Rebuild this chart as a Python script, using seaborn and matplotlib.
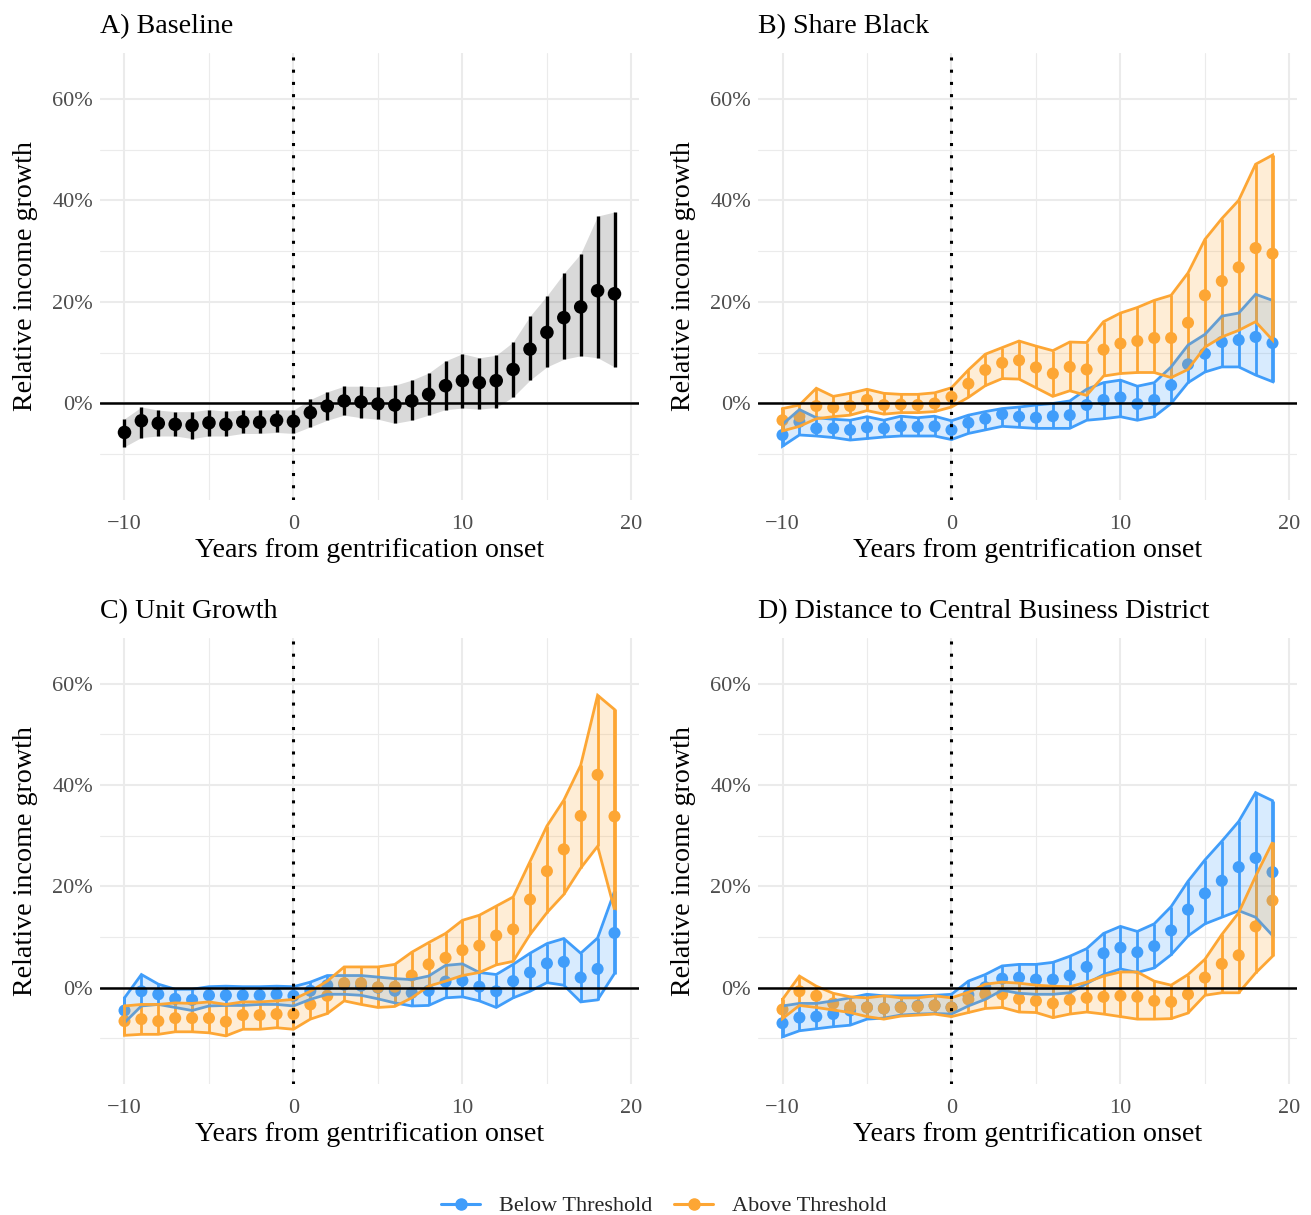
import matplotlib
matplotlib.use("Agg")
import matplotlib.pyplot as plt
import numpy as np
import pandas as pd
import seaborn as sns
from matplotlib.lines import Line2D
from matplotlib.ticker import FixedLocator, FuncFormatter

# ---------------- data (percent) ----------------
years = list(range(-10, 20))

base_est = [-5.7, -3.4, -3.9, -4.1, -4.3, -3.8, -4.1, -3.6, -3.7, -3.3, -3.5, -1.8, -0.5, 0.5, 0.3,
            -0.1, -0.3, 0.5, 1.8, 3.5, 4.5, 4.1, 4.5, 6.7, 10.7, 14.0, 16.9, 19.0, 22.2, 21.6]
base_hi = [-3.0, -0.7, -1.3, -1.6, -1.6, -1.2, -1.5, -1.3, -1.3, -1.2, -1.3, 0.8, 2.3, 3.4, 3.4,
           3.3, 3.6, 4.6, 6.0, 8.4, 9.8, 9.0, 9.5, 12.1, 17.2, 21.2, 25.6, 29.5, 36.9, 37.7]
base_lo = [-8.5, -6.7, -6.4, -6.4, -6.9, -6.4, -6.4, -5.9, -5.9, -5.7, -5.9, -4.6, -3.3, -2.3, -2.8,
           -3.1, -3.9, -3.3, -2.3, -1.2, -0.9, -1.1, -0.8, 1.3, 4.6, 7.2, 8.7, 9.4, 9.0, 7.2]

black_below_est = [-6.2, -3.6, -4.9, -4.9, -5.2, -4.7, -4.9, -4.5, -4.6, -4.5, -5.2, -3.8, -3.0, -2.1, -2.6,
                   -2.8, -2.5, -2.3, -0.3, 0.7, 1.2, -0.1, 0.7, 3.6, 7.7, 9.8, 12.1, 12.5, 13.1, 11.9]
black_below_hi = [-4.1, -1.2, -2.8, -3.1, -3.3, -2.6, -3.3, -2.5, -2.8, -2.5, -3.4, -2.3, -1.6, -1.0, -0.7,
                  -0.3, 0.0, 0.5, 2.8, 4.1, 4.6, 3.4, 4.1, 7.2, 11.5, 13.6, 17.2, 17.8, 21.5, 20.3]
black_below_lo = [-8.4, -6.2, -6.4, -6.7, -7.2, -6.9, -6.6, -6.4, -6.4, -6.4, -7.1, -5.9, -5.2, -4.5, -4.7,
                  -4.9, -4.9, -4.9, -3.3, -3.0, -2.6, -3.3, -2.6, 0.0, 4.1, 6.2, 7.2, 7.2, 5.6, 4.3]
black_above_est = [-3.3, -2.5, -0.5, -0.8, -0.5, 0.7, -0.3, -0.2, -0.3, 0.0, 1.3, 3.9, 6.6, 8.0, 8.5,
                   7.1, 5.9, 7.2, 6.7, 10.6, 11.8, 12.3, 12.9, 12.9, 15.9, 21.3, 24.1, 26.8, 30.6, 29.5]
black_above_hi = [-1.0, -0.3, 3.0, 1.4, 2.0, 2.8, 2.0, 1.8, 1.8, 2.1, 3.1, 6.6, 9.7, 11.0, 12.3,
                  11.3, 10.4, 12.1, 12.0, 16.1, 17.8, 18.9, 20.3, 21.3, 25.7, 32.3, 36.4, 40.0, 47.1, 48.9]
black_above_lo = [-5.4, -4.5, -3.0, -2.6, -2.3, -1.4, -2.1, -1.8, -1.8, -1.6, -0.7, 1.2, 3.5, 4.9, 4.8,
                  3.1, 1.4, 2.5, 1.6, 5.4, 5.9, 6.1, 6.1, 5.1, 6.7, 11.1, 13.1, 14.4, 16.1, 12.5]

unit_below_est = [-4.5, -0.7, -1.3, -2.2, -2.4, -1.5, -1.5, -1.5, -1.5, -1.3, -1.6, -0.6, 0.5, 0.6, 0.4,
                  0.0, -0.6, -1.0, -0.6, 1.2, 1.4, 0.2, -0.7, 1.3, 3.0, 4.8, 5.1, 2.0, 3.7, 10.8]
unit_below_hi = [-2.0, 2.6, 0.7, -0.3, -0.3, 0.2, 0.3, 0.2, 0.2, 0.3, 0.2, 1.1, 2.4, 2.4, 2.4,
                 2.1, 1.8, 1.6, 2.3, 4.4, 4.7, 3.0, 2.6, 4.6, 6.8, 8.7, 9.7, 6.8, 9.8, 19.0]
unit_below_lo = [-6.9, -3.6, -3.3, -3.9, -4.5, -3.6, -3.5, -3.5, -3.3, -3.3, -3.6, -2.3, -1.3, -1.3, -1.5,
                 -2.2, -3.0, -3.6, -3.5, -2.0, -1.8, -2.6, -3.9, -2.0, -0.7, 1.0, 0.5, -2.8, -2.4, 2.8]
unit_above_est = [-6.6, -6.2, -6.6, -6.0, -6.0, -6.0, -6.7, -5.4, -5.4, -5.2, -5.2, -3.3, -1.6, 0.9, 0.9,
                  0.1, 0.2, 2.4, 4.6, 5.9, 7.4, 8.3, 10.3, 11.5, 17.4, 23.0, 27.3, 33.9, 42.0, 33.8]
unit_above_hi = [-3.6, -3.3, -3.3, -3.0, -3.1, -2.8, -3.3, -2.8, -2.8, -2.6, -2.3, -0.7, 1.3, 4.1, 4.1,
                 4.1, 4.6, 7.0, 8.9, 10.7, 13.3, 14.3, 16.1, 17.9, 24.9, 31.9, 37.0, 43.9, 57.7, 54.9]
unit_above_lo = [-9.4, -9.2, -9.2, -8.7, -8.7, -8.9, -9.5, -8.2, -8.2, -7.9, -8.2, -6.2, -5.1, -2.6, -3.3,
                 -3.9, -3.7, -2.0, 0.3, 1.3, 2.4, 3.0, 4.5, 5.2, 10.5, 14.8, 18.4, 23.6, 27.9, 15.4]

cbd_below_est = [-7.0, -5.9, -5.7, -5.2, -4.5, -3.9, -4.1, -3.8, -3.6, -3.5, -3.9, -1.4, 0.1, 1.8, 2.0,
                 1.6, 1.6, 2.4, 4.1, 6.8, 7.9, 7.0, 8.2, 11.3, 15.4, 18.6, 21.1, 23.8, 25.6, 22.8]
cbd_below_hi = [-3.6, -3.1, -3.1, -2.6, -2.0, -1.3, -1.6, -1.6, -1.6, -1.5, -1.3, 1.3, 2.6, 4.3, 4.6,
                4.6, 5.0, 6.2, 7.7, 10.7, 12.1, 11.1, 12.6, 16.0, 21.0, 25.2, 28.9, 32.8, 38.5, 36.9]
cbd_below_lo = [-9.7, -8.5, -8.1, -7.7, -7.4, -6.2, -6.0, -5.4, -5.2, -5.1, -5.2, -3.6, -2.3, -0.5, -1.1,
                -1.3, -1.3, -1.0, 0.8, 2.6, 3.7, 3.0, 3.9, 6.5, 10.2, 12.6, 13.9, 15.2, 13.9, 10.3]
cbd_above_est = [-4.3, -0.7, -1.6, -3.1, -3.8, -3.9, -4.1, -3.9, -3.7, -3.5, -3.9, -2.3, -1.3, -1.3, -2.2,
                 -2.6, -3.1, -2.4, -2.0, -1.8, -1.6, -1.8, -2.6, -2.8, -1.3, 2.0, 4.7, 6.4, 12.1, 17.2]
cbd_above_hi = [-2.3, 2.3, 0.3, -1.1, -1.8, -2.0, -1.6, -2.0, -2.0, -1.6, -2.0, -0.9, 0.7, 1.1, 0.9,
                0.5, 0.3, 0.2, 1.1, 2.3, 3.1, 3.1, 1.3, 0.5, 2.6, 5.6, 10.5, 14.8, 22.0, 28.7]
cbd_above_lo = [-6.1, -3.5, -3.9, -4.4, -4.9, -5.7, -6.2, -5.6, -5.4, -5.2, -5.7, -4.9, -4.1, -3.9, -4.8,
                -4.9, -5.9, -5.2, -4.8, -5.2, -5.7, -6.2, -6.2, -6.1, -5.0, -1.5, -1.0, -1.0, 2.9, 6.2]

panel_titles = ["A) Baseline", "B) Share Black", "C) Unit Growth",
                "D) Distance to Central Business District"]
group_labels = ["Below Threshold", "Above Threshold"]
x_label = "Years from gentrification onset"
y_label = "Relative income growth"
x_ticks = [-10, 0, 10, 20]
x_minor = [-5, 5, 15]
y_ticks = [0, 20, 40, 60]
y_minor = [-10, 10, 30, 50]

# ---------------- style ----------------
BLUE = "#409DFA"
ORANGE = "#FDA634"
palette = {group_labels[0]: BLUE, group_labels[1]: ORANGE}
SERIF = ["Liberation Serif", "DejaVu Serif"]

sns.set_theme(style="white")
plt.rcParams["font.family"] = SERIF
plt.rcParams["axes.unicode_minus"] = True

W, H = 1311, 1215
fig = plt.figure(figsize=(W / 100, H / 100), dpi=100)
fig.patch.set_facecolor("white")


def make_ax(left, top, right, bottom):
    return fig.add_axes([left / W, (H - bottom) / H, (right - left) / W, (bottom - top) / H])


axA = make_ax(100, 53, 639, 500)
axB = make_ax(758, 53, 1297, 500)
axC = make_ax(100, 638, 639, 1084)
axD = make_ax(758, 638, 1297, 1084)

FS_TITLE = 20.2


def style_ax(ax, title):
    ax.set_facecolor("white")
    ax.set_xlim(-11.45, 20.45)
    ax.set_ylim(-19, 69)
    ax.xaxis.set_major_locator(FixedLocator(x_ticks))
    ax.xaxis.set_minor_locator(FixedLocator(x_minor))
    ax.yaxis.set_major_locator(FixedLocator(y_ticks))
    ax.yaxis.set_minor_locator(FixedLocator(y_minor))
    ax.yaxis.set_major_formatter(FuncFormatter(lambda v, p: f"{int(v)}%"))
    ax.xaxis.set_major_formatter(FuncFormatter(lambda v, p: f"{int(v)}".replace("-", "\u2212")))
    ax.grid(which="major", color="#EBEBEB", linewidth=1.5, zorder=0)
    ax.grid(which="minor", color="#EBEBEB", linewidth=0.8, zorder=0)
    ax.set_axisbelow(True)
    for s in ax.spines.values():
        s.set_visible(False)
    ax.tick_params(axis="x", which="both", length=0, labelsize=16, labelcolor="#4D4D4D", pad=11)
    ax.tick_params(axis="y", which="both", length=0, labelsize=16, labelcolor="#4D4D4D", pad=5)
    for lab in ax.get_xticklabels() + ax.get_yticklabels():
        lab.set_family(SERIF)
    ax.set_title(title, loc="left", fontsize=FS_TITLE, color="black", pad=14, family=SERIF)
    ax.axhline(0, color="black", linewidth=1.8, zorder=6)
    ax.axvline(0, color="black", linewidth=2.2, linestyle=(0, (1, 3)), zorder=6)


def set_labels(ax):
    ax.set_xlabel(x_label, fontsize=FS_TITLE, color="black", labelpad=3, family=SERIF)
    ax.set_ylabel(y_label, fontsize=FS_TITLE, color="black", labelpad=10, family=SERIF)


# Panel A
style_ax(axA, panel_titles[0])
dfA = pd.DataFrame({"year": years, "est": base_est, "lo": base_lo, "hi": base_hi})
axA.vlines(dfA["year"], dfA["lo"], dfA["hi"], color="black", linewidth=2.4, zorder=3)
sns.scatterplot(data=dfA, x="year", y="est", color="black", s=95, edgecolor="none",
                ax=axA, zorder=4, legend=False)
axA.fill_between(dfA["year"], dfA["lo"], dfA["hi"], color="black", alpha=0.15,
                 linewidth=0, zorder=2)
set_labels(axA)

# Panels B-D
groups_data = [
    (axB, panel_titles[1], (black_below_est, black_below_lo, black_below_hi),
     (black_above_est, black_above_lo, black_above_hi)),
    (axC, panel_titles[2], (unit_below_est, unit_below_lo, unit_below_hi),
     (unit_above_est, unit_above_lo, unit_above_hi)),
    (axD, panel_titles[3], (cbd_below_est, cbd_below_lo, cbd_below_hi),
     (cbd_above_est, cbd_above_lo, cbd_above_hi)),
]

for ax, title, below, above in groups_data:
    style_ax(ax, title)
    frames = []
    for lab, (e, lo, hi) in zip(group_labels, (below, above)):
        frames.append(pd.DataFrame({"year": years, "est": e, "lo": lo, "hi": hi, "group": lab}))
    df = pd.concat(frames, ignore_index=True)
    # point ranges first
    for lab in group_labels:
        d = df[df["group"] == lab]
        ax.vlines(d["year"], d["lo"], d["hi"], color=palette[lab], linewidth=2.0, zorder=2)
    sns.scatterplot(data=df, x="year", y="est", hue="group", palette=palette,
                    s=75, edgecolor="none", ax=ax, zorder=2, legend=False)
    # ribbons on top (blue then orange)
    for k, lab in enumerate(group_labels):
        d = df[df["group"] == lab]
        ax.fill_between(d["year"], d["lo"], d["hi"], facecolor=palette[lab], alpha=0.2,
                        edgecolor="none", zorder=3 + k)
        xs = list(d["year"]) + list(d["year"])[::-1] + [d["year"].iloc[0]]
        ys = list(d["hi"]) + list(d["lo"])[::-1] + [d["hi"].iloc[0]]
        ax.plot(xs, ys, color=palette[lab], linewidth=2.0, zorder=3 + k,
                solid_joinstyle="miter")
    set_labels(ax)

handles = [Line2D([], [], color=palette[g], marker="o", markersize=8, linewidth=2.2)
           for g in group_labels]
leg = fig.legend(handles, group_labels, loc="center", bbox_to_anchor=(664 / W, 1 - 1206 / H),
                 ncol=2, frameon=False, handlelength=1.75, columnspacing=1.0,
                 handletextpad=0.85, prop={"family": SERIF, "size": 16})

fig.savefig("out.png", dpi=100, facecolor="white")
